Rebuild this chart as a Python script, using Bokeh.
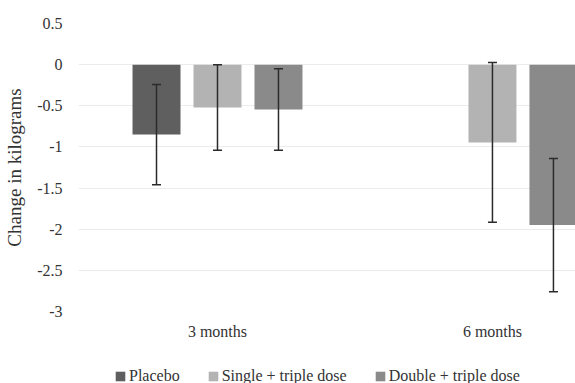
from bokeh.plotting import figure
from bokeh.layouts import column
from bokeh.models import (ColumnDataSource, Range1d, FixedTicker, Whisker, TeeHead,
                          Legend, LegendItem, NumeralTickFormatter)
from bokeh.embed import file_html
from bokeh.resources import INLINE
import math

categories = ["3 months", "6 months"]
series = ["Placebo", "Single + triple dose", "Double + triple dose"]
colors = ["#5f5f5f", "#b3b3b3", "#8a8a8a"]
placebo = [-0.85, float("nan")]
placebo_err = [0.61, float("nan")]
single = [-0.52, -0.945]
single_err = [0.52, 0.97]
double = [-0.545, -1.95]
double_err = [0.495, 0.81]
y_ticks = [-3, -2.5, -2, -1.5, -1, -0.5, 0, 0.5]

values = [placebo, single, double]
errors = [placebo_err, single_err, double_err]
offsets = [-0.2218, 0.0, 0.2218]
bar_w = 0.1745

FONT = "Liberation Serif"
TXT = "#333333"

p = figure(width=575, height=345, output_backend="svg", toolbar_location=None,
           x_range=Range1d(-0.5055, 1.302), y_range=Range1d(-3, 0.5),
           min_border_left=78, min_border_right=0, min_border_top=23, min_border_bottom=34)
p.outline_line_color = None
p.background_fill_color = "white"
p.border_fill_color = "white"

for vals, errs, off, c in zip(values, errors, offsets, colors):
    xs, ys, lo, hi = [], [], [], []
    for i, (v, e) in enumerate(zip(vals, errs)):
        if math.isnan(v):
            continue
        xs.append(i + off)
        ys.append(v)
        lo.append(v - e)
        hi.append(v + e)
    src = ColumnDataSource(dict(x=xs, top=ys, lower=lo, upper=hi))
    p.vbar(x="x", top="top", bottom=0, width=bar_w, source=src,
           fill_color=c, line_color=None)
    w = Whisker(base="x", lower="lower", upper="upper", source=src, level="annotation",
                line_color="#2b2b2b", line_width=1.5,
                upper_head=TeeHead(size=9, line_color="#2b2b2b", line_width=1.5),
                lower_head=TeeHead(size=9, line_color="#2b2b2b", line_width=1.5))
    p.add_layout(w)

p.xgrid.visible = False
p.ygrid.grid_line_color = "#ececec"
p.ygrid.grid_line_width = 1
p.ygrid.ticker = FixedTicker(ticks=y_ticks)

p.yaxis.ticker = FixedTicker(ticks=y_ticks)
p.yaxis.formatter = NumeralTickFormatter(format="0.[0]")
p.yaxis.axis_line_color = None
p.yaxis.major_tick_line_color = None
p.yaxis.major_tick_out = 0
p.yaxis.major_tick_in = 0
p.yaxis.minor_tick_line_color = None
p.yaxis.major_label_standoff = 16
p.yaxis.major_label_text_font = FONT
p.yaxis.major_label_text_font_size = "16px"
p.yaxis.major_label_text_color = TXT
p.yaxis.axis_label = "Change in kilograms"
p.yaxis.axis_label_text_font = FONT
p.yaxis.axis_label_text_font_size = "19px"
p.yaxis.axis_label_text_font_style = "normal"
p.yaxis.axis_label_text_color = TXT
p.yaxis.axis_label_standoff = 9

p.xaxis.ticker = FixedTicker(ticks=[0, 1])
p.xaxis.major_label_overrides = {0: categories[0], 1: categories[1]}
p.xaxis.axis_line_color = None
p.xaxis.major_tick_line_color = None
p.xaxis.major_tick_out = 0
p.xaxis.major_tick_in = 0
p.xaxis.minor_tick_line_color = None
p.xaxis.major_label_standoff = 11
p.xaxis.major_label_text_font = FONT
p.xaxis.major_label_text_font_size = "16px"
p.xaxis.major_label_text_color = TXT

# legend strip below the chart (its frame is aligned with the chart's frame)
lf = figure(width=575, height=38, output_backend="svg", toolbar_location=None,
            x_range=Range1d(0, 1), y_range=Range1d(0, 1),
            x_axis_location=None, y_axis_location=None,
            min_border_left=78, min_border_right=0, min_border_top=0, min_border_bottom=0)
lf.outline_line_color = None
lf.grid.visible = False
items = []
for s, c in zip(series, colors):
    r = lf.vbar(x=[-10], top=[-10], width=0.1, fill_color=c, line_color=None)
    items.append(LegendItem(label=s, renderers=[r]))
legend = Legend(items=items, orientation="horizontal", location=(36, -2),
                border_line_color=None, background_fill_alpha=0,
                padding=0, margin=0, spacing=27, label_standoff=3,
                glyph_width=12, glyph_height=12, label_height=16,
                label_text_font=FONT, label_text_font_size="16px",
                label_text_color=TXT)
lf.add_layout(legend, "center")

layout = column(p, lf, spacing=0)
open("out.html", "w").write(file_html(layout, INLINE))
